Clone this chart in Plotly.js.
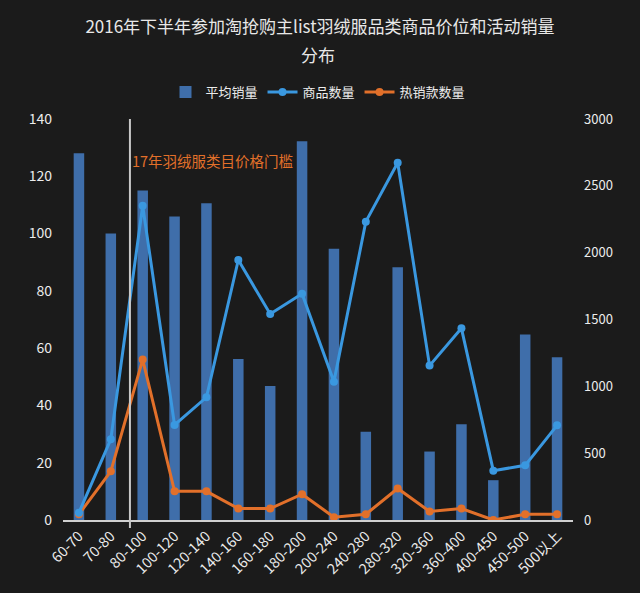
<!DOCTYPE html>
<html>
<head>
<meta charset="utf-8">
<script src="https://cdn.plot.ly/plotly-3.0.1.min.js"></script>
<style>
html,body{margin:0;padding:0;background:#1b1b1b;}
#chart{width:640px;height:593px;}
</style>
</head>
<body>
<div id="chart"></div>
<script>
const categories = ["60-70","70-80","80-100","100-120","120-140","140-160","160-180","180-200","200-240","240-280","280-320","320-360","360-400","400-450","450-500","500以上"];
const avgSales = [128, 100, 115, 106, 110.6, 56.2, 46.8, 132.2, 94.7, 30.8, 88.2, 23.9, 33.4, 13.9, 64.8, 56.8];
const productCount = [55, 604, 2351, 711, 918, 1945, 1541, 1693, 1035, 2232, 2673, 1155, 1434, 369, 409, 708];
const hotCount = [2, 17, 56, 10, 10, 4, 4, 9, 1, 2, 11, 3, 4, 0, 2, 2];
const seriesNames = ["平均销量", "商品数量", "热销款数量"];
const titleLine1 = "2016年下半年参加淘抢购主list羽绒服品类商品价位和活动销量";
const titleLine2 = "分布";
const thresholdLabel = "17年羽绒服类目价格门槛";

const FONT = "'Noto Sans CJK SC', 'Noto Sans', sans-serif";
const txt = "#ececec";

const traces = [
  {type:"bar", name:seriesNames[0], x:categories, y:avgSales, yaxis:"y",
   marker:{color:"#3f6eaa"}, width:0.33},
  {type:"scatter", mode:"lines+markers", name:seriesNames[1], x:categories, y:productCount, yaxis:"y2",
   line:{color:"#3a98e0", width:3}, marker:{color:"#3a98e0", size:8}},
  {type:"scatter", mode:"lines+markers", name:seriesNames[2], x:categories, y:hotCount, yaxis:"y",
   line:{color:"#e2702a", width:3}, marker:{color:"#e2702a", size:8}}
];

const layout = {
  width:640, height:593,
  paper_bgcolor:"#1b1b1b", plot_bgcolor:"#1b1b1b",
  font:{family:FONT, color:txt, size:13},
  margin:{l:63, r:67, t:119, b:73},
  title:{text:titleLine1, x:0.5, xanchor:"center", y:1 - 27/593, yanchor:"middle",
         font:{family:FONT, size:17, color:"#e8e8e8"}},
  showlegend:true,
  legend:{orientation:"h", x:0.5, xanchor:"center", y:1.067, yanchor:"middle",
          font:{family:FONT, size:13, color:txt}, bgcolor:"rgba(0,0,0,0)", traceorder:"normal"},
  xaxis:{type:"category", range:[-0.5, 15.5], tickangle:-45, showgrid:false, zeroline:false,
         showline:true, linecolor:"#d0d0d0", linewidth:2, ticks:"",
         tickfont:{family:FONT, size:14.5, color:txt}},
  yaxis:{range:[0,140], dtick:20, showgrid:false, zeroline:false, showline:false,
         ticks:"", ticklabelstandoff:10, tickfont:{family:FONT, size:14, color:txt}},
  yaxis2:{range:[0,3000], dtick:500, overlaying:"y", side:"right", showgrid:false,
          zeroline:false, showline:false, ticks:"", ticklabelstandoff:10,
          tickfont:{family:FONT, size:13, color:txt}},
  shapes:[{type:"line", xref:"x", yref:"paper", x0:1.6, x1:1.6, y0:-0.02, y1:1,
           line:{color:"#c8c8c8", width:2}}],
  annotations:[
    {xref:"paper", yref:"paper", x:0.5, y:(520-55)/401, xanchor:"center", yanchor:"middle",
     showarrow:false, text:titleLine2, font:{family:FONT, size:17, color:"#e8e8e8"}},
    {xref:"x", yref:"y", x:1.6, y:125.5, xanchor:"left", yanchor:"middle",
     xshift:0, showarrow:false, text:thresholdLabel,
     font:{family:FONT, size:14.5, color:"#e2702a"}}]
};

Plotly.newPlot("chart", traces, layout, {displayModeBar:false, staticPlot:true});
</script>
</body>
</html>
